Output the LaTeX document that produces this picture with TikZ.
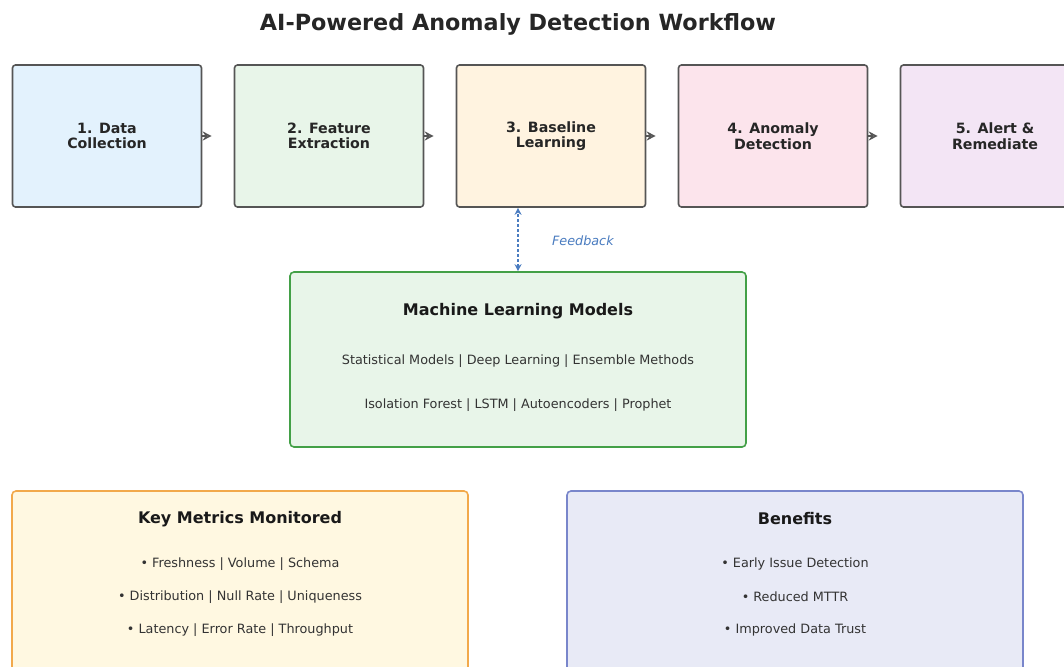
\documentclass[tikz,border=0pt]{standalone}
\usepackage{fontspec}
\setmainfont{DejaVu Sans}
\usetikzlibrary{arrows.meta}

\definecolor{stepline}{HTML}{555555}
\definecolor{stepA}{HTML}{E3F2FD}
\definecolor{stepB}{HTML}{E8F5E9}
\definecolor{stepC}{HTML}{FFF3E0}
\definecolor{stepD}{HTML}{FCE4EC}
\definecolor{stepE}{HTML}{F3E5F5}
\definecolor{mlfill}{HTML}{E8F5E9}
\definecolor{mlline}{HTML}{43A047}
\definecolor{metfill}{HTML}{FFF8E1}
\definecolor{metline}{HTML}{F2A94B}
\definecolor{benfill}{HTML}{E8EAF6}
\definecolor{benline}{HTML}{7986CB}
\definecolor{fbblue}{HTML}{4A7CC0}

\tikzset{
  stepbox/.style={draw=stepline, line width=1.6pt, rounded corners=3pt,
    minimum width=189pt, minimum height=142pt, inner sep=0pt, align=center,
    text=black!85, font=\bfseries\fontsize{14.2}{15.5}\selectfont},
  flow/.style={draw=stepline, line width=1.5pt,
    -{Stealth[open,length=9pt,width=9pt]}, shorten >=22pt},
  panel/.style={line width=1.6pt, rounded corners=4pt, minimum width=456pt, inner sep=0pt},
  paneltitle/.style={font=\bfseries\fontsize{16}{18}\selectfont, text=black!90},
  panelline/.style={font=\fontsize{12.8}{14}\selectfont, text=black!80},
}

\begin{document}
\begin{tikzpicture}[x=1pt,y=-1pt]
\useasboundingbox (0,0) rectangle (1064,666);
\fill[white] (0,0) rectangle (1064,666);

\node[font=\bfseries\fontsize{22.3}{26}\selectfont, text=black!85] (title) at (518,24)
  {AI-Powered Anomaly Detection Workflow};

% workflow steps
\foreach \i/\txt/\col in {1/{1. Data\\Collection}/stepA, 2/{2. Feature\\Extraction}/stepB,
  3/{3. Baseline\\Learning}/stepC, 4/{4. Anomaly\\Detection}/stepD, 5/{5. Alert \&\\Remediate}/stepE}
  \node[stepbox, fill=\col] (s\i) at ({107+222*(\i-1)},136) {\txt};
\foreach \i [evaluate=\i as \j using int(\i+1)] in {1,...,4}
  \draw[flow] (s\i.east) -- (s\j.west);

% models
\node[panel, draw=mlline, fill=mlfill, minimum height=175pt] (ml) at (518,359.5) {};
\node[paneltitle] (mltitle) at (518,311) {Machine Learning Models};
\node[panelline] (mlone) at (518,361) {Statistical Models | Deep Learning | Ensemble Methods};
\node[panelline] (mltwo) at (518,405) {Isolation Forest | LSTM | Autoencoders | Prophet};

\draw[fbblue, line width=1.4pt, dash pattern=on 3pt off 2pt,
  {Stealth[length=7pt,width=7pt]}-{Stealth[length=7pt,width=7pt]}]
  (ml.north) -- node[anchor=west, xshift=30pt, yshift=-1.5pt, font=\itshape\fontsize{12.8}{14}\selectfont] (fb) {Feedback}
  (ml.north |- s3.south);

% metrics and benefits
\node[panel, draw=metline, fill=metfill, minimum height=185pt] (met) at (240,583.5) {};
\node[paneltitle] (mettitle) at (240,519) {Key Metrics Monitored};
\node[panelline] (metone) at (240,564) {• Freshness | Volume | Schema};
\node[panelline] (mettwo) at (240,597) {• Distribution | Null Rate | Uniqueness};
\node[panelline] (metthree) at (240,630) {• Latency | Error Rate | Throughput};

\node[panel, draw=benline, fill=benfill, minimum height=185pt] (ben) at (795,583.5) {};
\node[paneltitle] (bentitle) at (795,519) {Benefits};
\node[panelline] (benone) at (795,564) {• Early Issue Detection};
\node[panelline] (bentwo) at (795,597) {• Reduced MTTR};
\node[panelline] (benthree) at (795,630) {• Improved Data Trust};
\end{tikzpicture}
\end{document}
